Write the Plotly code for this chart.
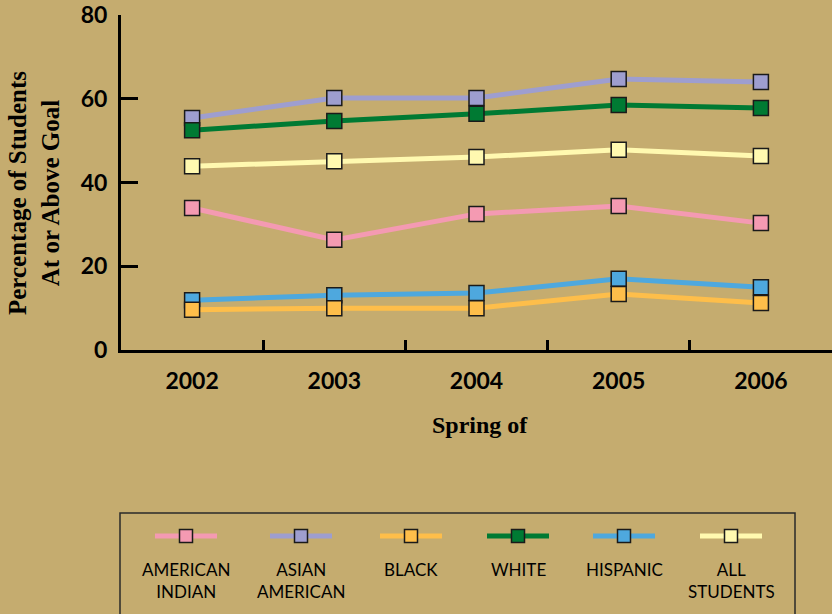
import plotly.graph_objects as go

years = ["2002", "2003", "2004", "2005", "2006"]
american_indian = [33.9, 26.3, 32.5, 34.4, 30.3]
asian_american = [55.4, 60.2, 60.2, 64.7, 64.0]
black = [9.6, 10.0, 10.0, 13.4, 11.2]
white = [52.5, 54.7, 56.4, 58.5, 57.8]
hispanic = [11.9, 13.1, 13.6, 17.0, 15.0]
all_students = [43.9, 45.1, 46.1, 47.8, 46.3]

series_names = ["AMERICAN<br>INDIAN", "ASIAN<br>AMERICAN", "BLACK", "WHITE", "HISPANIC", "ALL<br>STUDENTS"]
series_values = [american_indian, asian_american, black, white, hispanic, all_students]
series_colors = ["#F49AB2", "#9E9ECF", "#FEBE4A", "#007A33", "#4EA8DE", "#FFF9B0"]
y_ticks = [0, 20, 40, 60, 80]

BG = "#C5AC6F"
TICK_FONT = dict(family="Lato", size=23, color="black", weight="bold")

fig = go.Figure()
draw_order = [0, 1, 3, 5, 4, 2]
for i in draw_order:
    fig.add_trace(go.Scatter(
        x=years, y=series_values[i], mode="lines+markers",
        line=dict(color=series_colors[i], width=5),
        marker=dict(symbol="square", size=15, color=series_colors[i],
                    line=dict(color="#1a1a1a", width=1.5)),
        showlegend=False, cliponaxis=False, hoverinfo="skip",
    ))

# plot area in pixels: x 121..832, y 15..350
L, R, T, B = 121, 0, 15, 264
W, H = 832, 614
pw, ph = W - L - R, H - T - B

def px(x):
    return (x - L) / pw

def py(y):
    return (H - B - y) / ph

fig.update_layout(
    width=W, height=H,
    margin=dict(l=L, r=R, t=T, b=B, pad=0),
    paper_bgcolor=BG, plot_bgcolor=BG,
    xaxis=dict(
        type="category", range=[-0.5, 4.5], showgrid=False, zeroline=False,
        showline=True, linecolor="black", linewidth=3,
        ticks="inside", tickson="boundaries", ticklen=10, tickwidth=3, tickcolor="black",
        tickfont=TICK_FONT, ticklabelstandoff=8,
    ),
    yaxis=dict(
        range=[0, 80], tickvals=y_ticks, showgrid=False, zeroline=False,
        showline=True, linecolor="black", linewidth=3,
        ticks="inside", ticklen=17, tickwidth=3, tickcolor="black",
        tickfont=TICK_FONT, ticklabelstandoff=6,
    ),
)

annotations = [
    dict(text="Spring of", xref="paper", yref="paper", x=px(480), y=py(425),
         showarrow=False, font=dict(family="Liberation Serif", size=24, color="black", weight="bold"),
         xanchor="center", yanchor="middle"),
    dict(text="Percentage of Students<br>At or Above Goal", xref="paper", yref="paper",
         x=px(34), y=py(193), textangle=-90, showarrow=False,
         font=dict(family="Liberation Serif", size=25, color="black", weight="bold"),
         xanchor="center", yanchor="middle"),
]

shapes = [
    dict(type="rect", xref="paper", yref="paper", x0=px(120), x1=px(795), y0=py(513), y1=py(640),
         line=dict(color="#2a2a2a", width=1.5), fillcolor="rgba(0,0,0,0)", layer="below"),
]

legend_x = [186, 301, 411, 518, 624, 731]
for name, col, cx in zip(series_names, series_colors, legend_x):
    shapes.append(dict(type="line", xref="paper", yref="paper",
                       x0=px(cx - 31), x1=px(cx + 31), y0=py(536), y1=py(536),
                       line=dict(color=col, width=5)))
    shapes.append(dict(type="rect", xref="paper", yref="paper",
                       x0=px(cx - 6.5), x1=px(cx + 6.5), y0=py(529.5), y1=py(542.5),
                       fillcolor=col, line=dict(color="#1a1a1a", width=1.5)))
    annotations.append(dict(text=name, xref="paper", yref="paper", x=px(cx), y=py(557),
                            showarrow=False, xanchor="center", yanchor="top", align="center",
                            font=dict(family="Lato", size=17, color="black"),
                            ))

fig.update_layout(annotations=annotations, shapes=shapes)
fig.write_html("out.html", config={"displayModeBar": False},
               post_script="document.body.style.margin='0';document.body.style.overflow='hidden';")
